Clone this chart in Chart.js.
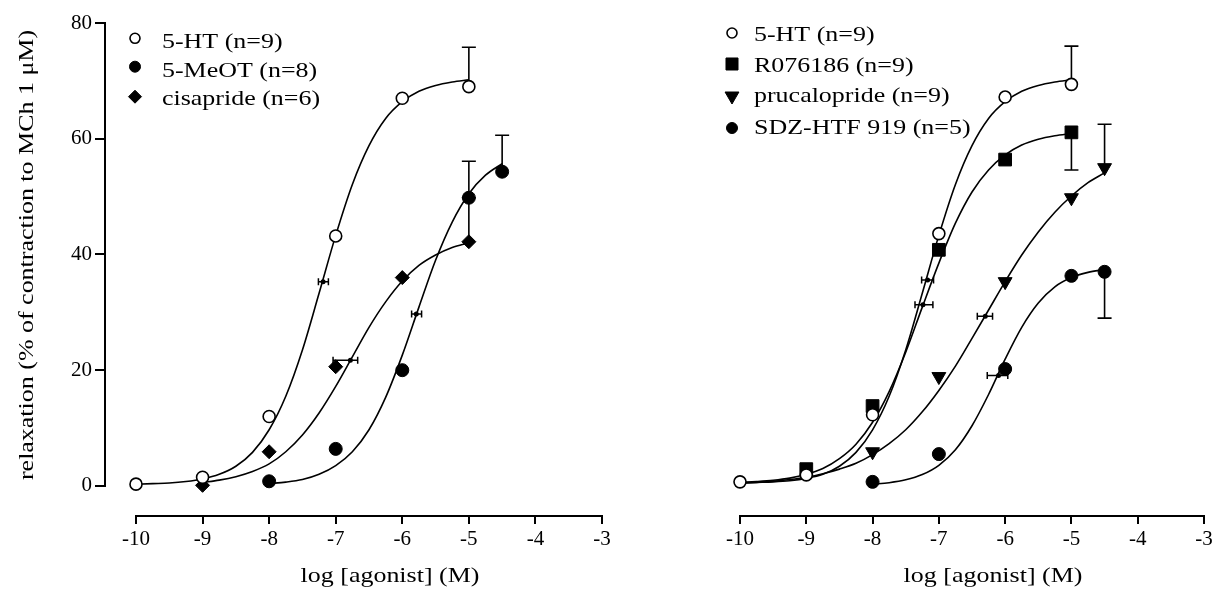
<!DOCTYPE html>
<html>
<head>
<meta charset="utf-8">
<script src="https://cdn.jsdelivr.net/npm/chart.js@4.4.1/dist/chart.umd.min.js"></script>
<style>
  html, body { margin: 0; padding: 0; overflow: hidden; background: #fff; width: 1213px; height: 591px; }
  canvas { position: absolute; left: 0; top: 0; }
</style>
</head>
<body>
<canvas id="leftChart" width="1240" height="591"></canvas>
<canvas id="rightChart" width="1240" height="591"></canvas>
<script>
// ================= DATA =================
const xTickValues = [-10, -9, -8, -7, -6, -5, -4, -3];
const yTickValues = [0, 20, 40, 60, 80];
const xTitle = 'log [agonist] (M)';
const yTitle = 'relaxation (% of contraction to MCh 1 \u03bcM)';

// ---- left panel ----
const leftLabels = ['5-HT (n=9)', '5-MeOT (n=8)', 'cisapride (n=6)'];
const htX = [-10, -9, -8, -7, -6, -5];
const htY = [0.3, 1.5, 12.0, 43.2, 67.0, 69.0];
const meotX = [-8, -7, -6, -5, -4.5];
const meotY = [0.8, 6.4, 20.0, 49.8, 54.3];
const cisX = [-9, -8, -7, -6, -5];
const cisY = [0.1, 5.9, 20.6, 36.0, 42.2];

// fitted curves
const htFitX = [-10, -9.75, -9.5, -9.25, -9, -8.75, -8.5, -8.25, -8, -7.75, -7.5, -7.25, -7, -6.75, -6.5, -6.25, -6, -5.75, -5.5, -5.25, -5];
const htFitY = [0.3, 0.4, 0.5, 0.75, 1.2, 2.0, 3.4, 5.8, 9.7, 15.5, 23.5, 33.3, 43.3, 52.1, 58.8, 63.5, 66.4, 68.2, 69.2, 69.8, 70.2];
const meotFitX = [-8, -7.75, -7.5, -7.25, -7, -6.75, -6.5, -6.25, -6, -5.75, -5.5, -5.25, -5, -4.75, -4.5];
const meotFitY = [0.4, 0.65, 1.1, 2.0, 3.5, 5.9, 9.7, 15.3, 22.6, 30.9, 39.0, 45.6, 50.5, 53.7, 55.7];
const cisFitX = [-9, -8.75, -8.5, -8.25, -8, -7.75, -7.5, -7.25, -7, -6.75, -6.5, -6.25, -6, -5.75, -5.5, -5.25, -5];
const cisFitY = [0.6, 1.0, 1.6, 2.5, 3.8, 5.9, 8.8, 12.6, 17.2, 22.3, 27.4, 31.8, 35.4, 38.1, 39.9, 41.2, 42.0];

// SEM bars (x, mean, end of bar)
const leftErrX = [-5, -5, -5, -4.5];
const leftErrY = [69.0, 49.8, 42.2, 54.3];
const leftErrEnd = [75.8, 56.1, 49.8, 60.6];
// EC50 +/- SEM bars
const leftEcY = [35.3, 21.7, 29.7];
const leftEcX = [-7.19, -6.78, -5.79];
const leftEcLo = [-7.26, -7.04, -5.86];
const leftEcHi = [-7.11, -6.67, -5.71];

// ---- right panel ----
const rightLabels = ['5-HT (n=9)', 'R076186 (n=9)', 'prucalopride (n=9)', 'SDZ-HTF 919 (n=5)'];
const ht2X = [-10, -9, -8, -7, -6, -5];
const ht2Y = [0.7, 1.9, 12.3, 43.6, 67.2, 69.4];
const roX = [-9, -8, -7, -6, -5];
const roY = [2.9, 13.8, 40.8, 56.4, 61.1];
const prucX = [-8, -7, -6, -5, -4.5];
const prucY = [5.9, 18.9, 35.3, 49.8, 55.0];
const sdzX = [-8, -7, -6, -5, -4.5];
const sdzY = [0.7, 5.5, 20.2, 36.3, 37.0];

const ht2FitX = [-10, -9.75, -9.5, -9.25, -9, -8.75, -8.5, -8.25, -8, -7.75, -7.5, -7.25, -7, -6.75, -6.5, -6.25, -6, -5.75, -5.5, -5.25, -5];
const ht2FitY = [0.5, 0.6, 0.7, 0.9, 1.3, 2.0, 3.4, 5.8, 9.7, 15.5, 23.5, 33.3, 43.3, 52.1, 58.8, 63.5, 66.4, 68.2, 69.2, 69.8, 70.2];
const roFitX = [-10, -9.75, -9.5, -9.25, -9, -8.75, -8.5, -8.25, -8, -7.75, -7.5, -7.25, -7, -6.75, -6.5, -6.25, -6, -5.75, -5.5, -5.25, -5];
const roFitY = [0.6, 0.75, 0.97, 1.35, 2.0, 3.0, 4.7, 7.2, 11.0, 16.3, 23.1, 30.9, 38.5, 45.4, 50.8, 54.6, 57.2, 58.9, 59.9, 60.5, 60.9];
const prucFitX = [-10, -9.75, -9.5, -9.25, -9, -8.75, -8.5, -8.25, -8, -7.75, -7.5, -7.25, -7, -6.75, -6.5, -6.25, -6, -5.75, -5.5, -5.25, -5, -4.75, -4.5];
const prucFitY = [0.45, 0.6, 0.8, 1.1, 1.5, 2.1, 2.9, 3.9, 5.4, 7.3, 9.7, 12.8, 16.5, 20.7, 25.5, 30.4, 35.3, 39.9, 43.9, 47.3, 50.1, 52.4, 54.1];
const sdzFitX = [-8, -7.75, -7.5, -7.25, -7, -6.75, -6.5, -6.25, -6, -5.75, -5.5, -5.25, -5, -4.75, -4.5];
const sdzFitY = [0.3, 0.56, 1.05, 1.96, 3.56, 6.25, 10.4, 15.8, 21.9, 27.4, 31.6, 34.4, 36.0, 36.9, 37.4];

const rightErrX = [-5, -5, -4.5, -4.5];
const rightErrY = [69.4, 61.1, 55.0, 37.0];
const rightErrEnd = [76.0, 54.6, 62.5, 29.0];
const rightEcY = [35.6, 31.3, 29.3, 19.1];
const rightEcX = [-7.17, -7.24, -6.30, -6.10];
const rightEcLo = [-7.26, -7.36, -6.42, -6.27];
const rightEcHi = [-7.08, -7.09, -6.19, -5.96];

// ================= STYLE / BUILD =================
const FONT = "'Liberation Serif', 'Times New Roman', Times, serif";
const TEXT_STRETCH = 1.18;

const pts = (xs, ys) => xs.map((x, i) => ({ x: x, y: ys[i] }));

const mk = {
  open:    { pointStyle: 'circle',   radius: 6,   rotation: 0,   bg: '#fff', bw: 1.6 },
  filled:  { pointStyle: 'circle',   radius: 6.5, rotation: 0,   bg: '#000', bw: 1 },
  diamond: { pointStyle: 'rectRot',  radius: 7,   rotation: 0,   bg: '#000', bw: 1 },
  square:  { pointStyle: 'rect',     radius: 9,   rotation: 0,   bg: '#000', bw: 1 },
  tri:     { pointStyle: 'triangle', radius: 8,   rotation: 180, bg: '#000', bw: 1 }
};

function markerSet(xs, ys, m) {
  return {
    data: pts(xs, ys), showLine: false, order: 0,
    pointStyle: m.pointStyle, pointRadius: m.radius, pointRotation: m.rotation,
    pointBackgroundColor: m.bg, pointBorderColor: '#000', pointBorderWidth: m.bw,
    pointHoverRadius: m.radius
  };
}
function curveSet(xs, ys) {
  return {
    data: pts(xs, ys), showLine: true, order: 1,
    borderColor: '#000', borderWidth: 1.6, pointRadius: 0, pointHoverRadius: 0,
    fill: false, cubicInterpolationMode: 'monotone'
  };
}

function drawStretched(ctx, text, x, y, sx, angle) {
  ctx.save();
  ctx.translate(x, y);
  if (angle) ctx.rotate(angle);
  ctx.scale(sx, 1);
  ctx.fillText(text, 0, 0);
  ctx.restore();
}

const decorPlugin = {
  id: 'decor',
  beforeDatasetsDraw(chart, args, o) {
    const { ctx } = chart; const x = chart.scales.x, y = chart.scales.y;
    ctx.save();
    ctx.strokeStyle = '#000'; ctx.lineWidth = 1.6;
    o.errX.forEach((xv, i) => {
      const px = x.getPixelForValue(xv);
      const p0 = y.getPixelForValue(o.errY[i]);
      const p1 = y.getPixelForValue(o.errEnd[i]);
      ctx.beginPath();
      ctx.moveTo(px, p0); ctx.lineTo(px, p1);
      ctx.moveTo(px - 7, p1); ctx.lineTo(px + 7, p1);
      ctx.stroke();
    });
    ctx.restore();
  },
  afterDatasetsDraw(chart, args, o) {
    const { ctx } = chart; const x = chart.scales.x, y = chart.scales.y;
    ctx.save();
    ctx.strokeStyle = '#000'; ctx.fillStyle = '#000'; ctx.lineWidth = 1.5;
    o.ecY.forEach((yv, i) => {
      const py = y.getPixelForValue(yv);
      const a = x.getPixelForValue(o.ecLo[i]), b = x.getPixelForValue(o.ecHi[i]);
      const c = x.getPixelForValue(o.ecX[i]);
      ctx.beginPath();
      ctx.moveTo(a, py); ctx.lineTo(b, py);
      ctx.moveTo(a, py - 3.5); ctx.lineTo(a, py + 3.5);
      ctx.moveTo(b, py - 3.5); ctx.lineTo(b, py + 3.5);
      ctx.stroke();
      ctx.beginPath(); ctx.arc(c, py, 2.5, 0, Math.PI * 2); ctx.fill();
    });
    ctx.restore();
  },
  afterDraw(chart, args, o) {
    const { ctx, chartArea } = chart; const x = chart.scales.x, y = chart.scales.y;
    ctx.save();
    ctx.strokeStyle = '#000'; ctx.fillStyle = '#000'; ctx.lineWidth = 2;
    // x axis line (offset below the data)
    const xb = Math.round(chartArea.bottom);
    ctx.beginPath();
    ctx.moveTo(x.getPixelForValue(xTickValues[0]) - 1, xb);
    ctx.lineTo(x.getPixelForValue(xTickValues[xTickValues.length - 1]) + 1, xb);
    ctx.stroke();
    // y axis line
    if (o.showY) {
      const xl = Math.round(chartArea.left);
      ctx.beginPath();
      ctx.moveTo(xl, y.getPixelForValue(yTickValues[yTickValues.length - 1]) - 1);
      ctx.lineTo(xl, y.getPixelForValue(yTickValues[0]) + 1);
      ctx.stroke();
      ctx.font = '22px ' + FONT; ctx.textAlign = 'center'; ctx.textBaseline = 'alphabetic';
      drawStretched(ctx, yTitle, o.yTitleX, o.yTitleY, TEXT_STRETCH, -Math.PI / 2);
    }
    // x title
    ctx.font = '22px ' + FONT; ctx.textAlign = 'center'; ctx.textBaseline = 'alphabetic';
    drawStretched(ctx, xTitle, o.xTitleX, o.xTitleY, TEXT_STRETCH, 0);
    // legend
    const L = o.legend;
    L.labels.forEach((lab, i) => {
      const m = L.marks[i];
      ctx.fillStyle = m.bg; ctx.strokeStyle = '#000'; ctx.lineWidth = m.bw;
      Chart.helpers.drawPoint(ctx, { pointStyle: m.pointStyle, radius: m.legR, rotation: m.rotation, borderWidth: m.bw }, L.markerX, L.rows[i][0]);
      ctx.fillStyle = '#000';
      ctx.textAlign = 'left';
      drawStretched(ctx, lab, L.textX, L.rows[i][1], TEXT_STRETCH, 0);
    });
    ctx.restore();
  }
};

function makeChart(id, cfg) {
  return new Chart(document.getElementById(id), {
    type: 'scatter',
    data: { datasets: cfg.datasets },
    options: {
      responsive: false, animation: false, devicePixelRatio: 1,
      events: [],
      layout: { padding: cfg.padding },
      plugins: { legend: { display: false }, tooltip: { enabled: false }, decor: cfg.decor },
      scales: {
        x: {
          type: 'linear', min: cfg.xMin, max: xTickValues[xTickValues.length - 1],
          afterBuildTicks: s => { s.ticks = xTickValues.map(v => ({ value: v })); },
          afterFit: s => { s.height = 75; },
          ticks: { font: { family: FONT, size: 21 }, color: '#000', padding: 3, maxRotation: 0, autoSkip: false, callback: v => String(v) },
          grid: { display: true, drawOnChartArea: false, drawTicks: true, tickLength: 8, color: '#000', lineWidth: 2 },
          border: { display: false }
        },
        y: {
          type: 'linear', display: cfg.showY, min: -5.2, max: yTickValues[yTickValues.length - 1],
          afterBuildTicks: s => { s.ticks = yTickValues.map(v => ({ value: v })); },
          afterFit: s => { s.width = cfg.showY ? 105 : 0; },
          ticks: { font: { family: FONT, size: 21 }, color: '#000', padding: 3, callback: v => String(v) },
          grid: { display: true, drawOnChartArea: false, drawTicks: true, tickLength: 10, color: '#000', lineWidth: 2 },
          border: { display: false }
        }
      }
    },
    plugins: [decorPlugin]
  });
}

const legR = { open: 5, filled: 5.5, diamond: 6.5, square: 8.5, tri: 8 };
const withLeg = (m, r) => Object.assign({}, m, { legR: r });

makeChart('leftChart', {
  showY: true, xMin: -10.4657,
  padding: { left: 0, top: 23, right: 638, bottom: 0 },
  datasets: [
    markerSet(htX, htY, mk.open),
    markerSet(meotX, meotY, mk.filled),
    markerSet(cisX, cisY, mk.diamond),
    curveSet(htFitX, htFitY),
    curveSet(meotFitX, meotFitY),
    curveSet(cisFitX, cisFitY)
  ],
  decor: {
    showY: true,
    errX: leftErrX, errY: leftErrY, errEnd: leftErrEnd,
    ecX: leftEcX, ecY: leftEcY, ecLo: leftEcLo, ecHi: leftEcHi,
    yTitleX: 33, yTitleY: 255, xTitleX: 390, xTitleY: 582,
    legend: {
      labels: leftLabels, markerX: 135, textX: 162,
      rows: [[38.3, 48], [66.7, 77], [96.7, 105]],
      marks: [withLeg(mk.open, legR.open), withLeg(mk.filled, legR.filled), withLeg(mk.diamond, legR.diamond)]
    }
  }
});

makeChart('rightChart', {
  showY: false, xMin: -10.4677,
  padding: { left: 709, top: 23, right: 36, bottom: 0 },
  datasets: [
    markerSet(ht2X, ht2Y, mk.open),
    markerSet(roX, roY, mk.square),
    markerSet(prucX, prucY, mk.tri),
    markerSet(sdzX, sdzY, mk.filled),
    curveSet(ht2FitX, ht2FitY),
    curveSet(roFitX, roFitY),
    curveSet(prucFitX, prucFitY),
    curveSet(sdzFitX, sdzFitY)
  ],
  decor: {
    showY: false,
    errX: rightErrX, errY: rightErrY, errEnd: rightErrEnd,
    ecX: rightEcX, ecY: rightEcY, ecLo: rightEcLo, ecHi: rightEcHi,
    xTitleX: 993, xTitleY: 582,
    legend: {
      labels: rightLabels, markerX: 732, textX: 754,
      rows: [[33, 41], [64, 72], [96, 102], [128, 134]],
      marks: [withLeg(mk.open, legR.open), withLeg(mk.square, legR.square), withLeg(mk.tri, legR.tri), withLeg(mk.filled, legR.filled)]
    }
  }
});
</script>
</body>
</html>
